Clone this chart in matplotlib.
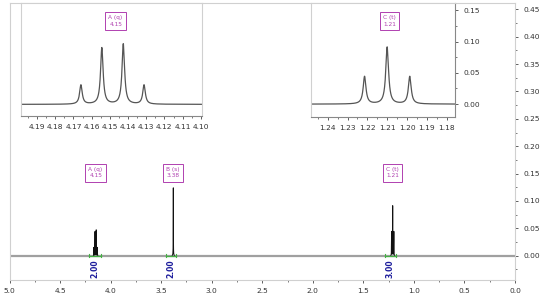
import numpy as np
import matplotlib
matplotlib.use("Agg")
import matplotlib.pyplot as plt
from matplotlib.ticker import MultipleLocator, FormatStrFormatter

# peak list (ppm, height)
peak_ppm = [4.1659, 4.1544, 4.1426, 4.1312, 3.38, 1.2214, 1.2100, 1.1986]
peak_height = [0.015, 0.044, 0.047, 0.015, 0.124, 0.044, 0.091, 0.044]
fwhm = 0.0017

# multiplet labels
mult_names = ["A (q)", "B (s)", "C (t)"]
mult_shift = [4.15, 3.38, 1.21]

# integrals
integ_from = [4.21, 3.45, 1.29]
integ_to = [4.10, 3.35, 1.18]
integ_value = ["2.00", "2.00", "3.00"]

tick_col = "#444444"
frame_col = "#d0d0d0"
label_col = "#b040b0"


def spectrum(x):
    y = np.zeros_like(x)
    g = fwhm / 2
    for p, h in zip(peak_ppm, peak_height):
        y += h * g**2 / ((x - p) ** 2 + g**2)
    return y


def style_axes(ax):
    for s in ax.spines.values():
        s.set_color(frame_col)
        s.set_linewidth(0.8)
    ax.tick_params(which="both", direction="out", colors=tick_col,
                   labelsize=5.4, labelcolor="#333333")
    ax.tick_params(which="major", length=2.5, width=0.6)
    ax.tick_params(which="minor", length=1.5, width=0.5)


def mult_box(ax, x, y, text, **kw):
    ax.text(x, y, text, fontsize=4.2, color=label_col, ha="center", va="center",
            multialignment="right", linespacing=1.4, zorder=5,
            bbox=dict(boxstyle="square,pad=0.55", fc="white", ec=label_col, lw=0.7), **kw)


fig = plt.figure(figsize=(5.6, 2.97), dpi=100)

# main spectrum
ax = fig.add_axes([0.017, 0.0572, 0.9027, 0.9317])
x = np.linspace(0, 5, 200001)
y = spectrum(x)
ax.axhline(0, color="#a0a0a0", lw=1.6, zorder=1)
ym = np.where(y > 0.0008, y, np.nan)
ax.plot(x, ym, color="#111111", lw=0.7, zorder=2)
ax.set_xlim(5.0, 0.0)
ax.set_ylim(-0.0443, 0.461)
style_axes(ax)
ax.yaxis.tick_right()
ax.xaxis.set_major_locator(MultipleLocator(0.5))
ax.xaxis.set_minor_locator(MultipleLocator(0.25))
ax.xaxis.set_major_formatter(FormatStrFormatter("%.1f"))
ax.yaxis.set_major_locator(MultipleLocator(0.05))
ax.yaxis.set_minor_locator(MultipleLocator(0.025))
ax.yaxis.set_major_formatter(FormatStrFormatter("%.2f"))

for name, sh in zip(mult_names, mult_shift):
    mult_box(ax, sh, 0.152, f"{name}\n{sh:.2f}")

for a, b, v in zip(integ_from, integ_to, integ_value):
    ax.plot([a, b], [0, 0], color="#44b044", lw=0.9, zorder=3)
    ax.plot([a, a], [-0.003, 0.003], color="#44b044", lw=0.8, zorder=3)
    ax.plot([b, b], [-0.003, 0.003], color="#44b044", lw=0.8, zorder=3)
    ax.text((a + b) / 2, -0.007, v, rotation=90, ha="center", va="top",
            fontsize=5.5, fontweight="bold", color="#1c1c9c", zorder=4)

# inset A
axa = fig.add_axes([0.037, 0.611, 0.3232, 0.3778])
xa = np.linspace(4.0995, 4.199, 4000)
axa.plot(xa, spectrum(xa), color="#555555", lw=0.9)
axa.set_xlim(4.199, 4.0995)
axa.set_ylim(-0.0087, 0.0787)
style_axes(axa)
axa.spines["bottom"].set_color("#888888")
axa.set_yticks([])
axa.set_xticks(np.round(np.arange(4.10, 4.195, 0.01), 2))
axa.xaxis.set_minor_locator(MultipleLocator(0.005))
axa.xaxis.set_major_formatter(FormatStrFormatter("%.2f"))
mult_box(axa, 4.147, 0.065, f"{mult_names[0]}\n{mult_shift[0]:.2f}")

# inset C
axc = fig.add_axes([0.5554, 0.6077, 0.2571, 0.3811])
xc = np.linspace(1.1758, 1.2484, 4000)
axc.plot(xc, spectrum(xc), color="#555555", lw=0.9)
axc.set_xlim(1.2484, 1.1758)
axc.set_ylim(-0.0198, 0.161)
style_axes(axc)
axc.spines["bottom"].set_color("#888888")
axc.spines["right"].set_color("#888888")
axc.yaxis.tick_right()
axc.set_xticks(np.round(np.arange(1.18, 1.245, 0.01), 2))
axc.xaxis.set_minor_locator(MultipleLocator(0.005))
axc.xaxis.set_major_formatter(FormatStrFormatter("%.2f"))
axc.yaxis.set_major_locator(MultipleLocator(0.05))
axc.yaxis.set_minor_locator(MultipleLocator(0.025))
axc.yaxis.set_major_formatter(FormatStrFormatter("%.2f"))
mult_box(axc, 1.2087, 0.133, f"{mult_names[2]}\n{mult_shift[2]:.2f}")

fig.savefig("out.png", dpi=100)
